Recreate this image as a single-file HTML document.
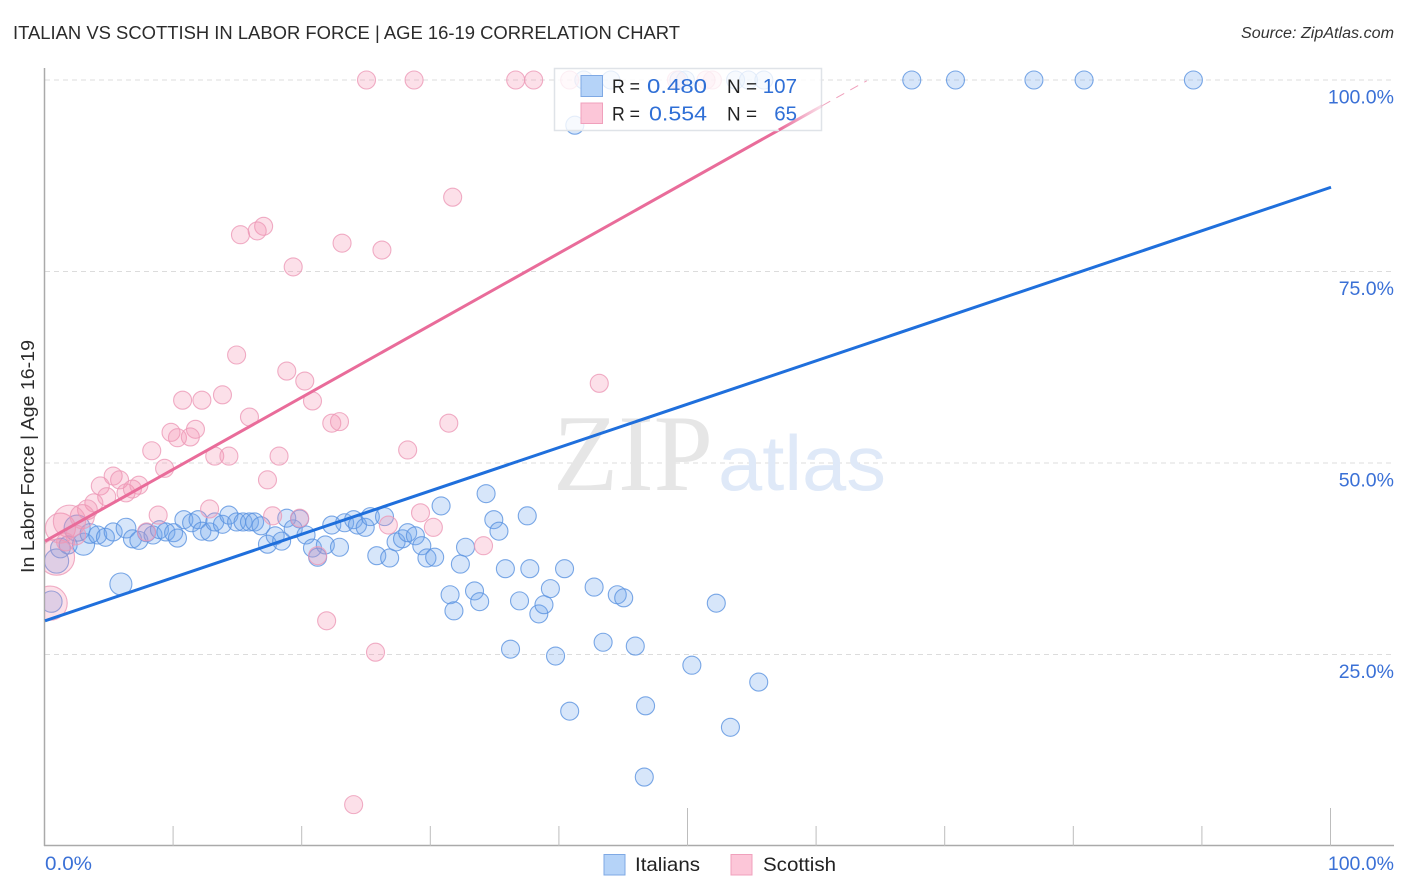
<!DOCTYPE html>
<html lang="en">
<head>
<meta charset="utf-8">
<title>Italian vs Scottish in Labor Force | Age 16-19 Correlation Chart</title>
<style>
html,body{margin:0;padding:0;background:#fff;}
body{width:1406px;height:892px;overflow:hidden;}
svg{display:block;}
text{font-family:"Liberation Sans",sans-serif;}
</style>
</head>
<body>
<svg id="chart" xmlns="http://www.w3.org/2000/svg" width="1406" height="892" viewBox="0 0 1406 892">
  <defs>
    <linearGradient id="pinkFade" gradientUnits="userSpaceOnUse" x1="779" y1="0" x2="825" y2="0">
      <stop offset="0" stop-color="#e96c9a" stop-opacity="1"/>
      <stop offset="1" stop-color="#e96c9a" stop-opacity="0.15"/>
    </linearGradient>
    <clipPath id="plotClip"><rect x="45" y="60" width="1361" height="786"/></clipPath>
  </defs>
  <text x="13" y="39" font-size="18.5" fill="#2b2b2b" textLength="667" lengthAdjust="spacingAndGlyphs">ITALIAN VS SCOTTISH IN LABOR FORCE | AGE 16-19 CORRELATION CHART</text>
  <text x="1241" y="38" font-size="15.5" font-style="italic" fill="#333" textLength="153" lengthAdjust="spacingAndGlyphs">Source: ZipAtlas.com</text>
  <text transform="translate(34,456.5) rotate(-90)" font-size="18.5" fill="#2b2b2b" text-anchor="middle" textLength="233" lengthAdjust="spacingAndGlyphs">In Labor Force | Age 16-19</text>

  <g id="grid"></g>

  <g>
    <text x="553" y="490" font-size="109" fill="#e6e6e6" style="font-family:'Liberation Serif',serif" textLength="160" lengthAdjust="spacingAndGlyphs">ZIP</text>
    <text x="718" y="490" font-size="78" fill="#dfe9f8" textLength="168" lengthAdjust="spacingAndGlyphs">atlas</text>
  </g>

  <g id="axes"></g>
  <g id="points" clip-path="url(#plotClip)"></g>
  <g id="trends"></g>
  <g id="labels"></g>

  <rect x="554.5" y="68.5" width="267" height="62" fill="#fff" fill-opacity="0.8" stroke="#dfe3e8" stroke-width="1.5"/>
  <g id="trendsTop"></g>
  <g>
    <rect x="581" y="75.5" width="21.5" height="21" fill="#b5d3f8" stroke="#7fa9e4" stroke-width="1"/>
    <rect x="581" y="103" width="21.5" height="20.5" fill="#fcc6d8" stroke="#f0a0bc" stroke-width="1"/>
    <text x="612" y="93" font-size="19.5" fill="#222" textLength="28" lengthAdjust="spacingAndGlyphs">R =</text>
    <text x="647" y="93" font-size="20.5" fill="#2f6fd6" textLength="60" lengthAdjust="spacingAndGlyphs">0.480</text>
    <text x="727" y="93" font-size="19.5" fill="#222" textLength="30" lengthAdjust="spacingAndGlyphs">N =</text>
    <text x="797" y="93" font-size="20.5" fill="#2f6fd6" text-anchor="end">107</text>
    <text x="612" y="120.5" font-size="19.5" fill="#222" textLength="28" lengthAdjust="spacingAndGlyphs">R =</text>
    <text x="649" y="120.5" font-size="20.5" fill="#2f6fd6" textLength="58" lengthAdjust="spacingAndGlyphs">0.554</text>
    <text x="727" y="120.5" font-size="19.5" fill="#222" textLength="30" lengthAdjust="spacingAndGlyphs">N =</text>
    <text x="797" y="120.5" font-size="20.5" fill="#2f6fd6" text-anchor="end">65</text>
  </g>

  <g>
    <rect x="604" y="854.5" width="21" height="20.5" fill="#b5d3f8" stroke="#7fa9e4" stroke-width="1"/>
    <text x="635" y="871" font-size="19.5" fill="#222" textLength="65" lengthAdjust="spacingAndGlyphs">Italians</text>
    <rect x="731" y="854.5" width="21" height="20.5" fill="#fcc6d8" stroke="#f0a0bc" stroke-width="1"/>
    <text x="763" y="871" font-size="19.5" fill="#222" textLength="73" lengthAdjust="spacingAndGlyphs">Scottish</text>
  </g>
</svg>

<script>
const yTickValues = [25, 50, 75, 100];
const yTickLabels = ['25.0%', '50.0%', '75.0%', '100.0%'];
const xTickValues = [0, 10, 20, 30, 40, 50, 60, 70, 80, 90, 100];
const xMajorTicks = [50, 100];
const xEndLabels = ['0.0%', '100.0%'];

const italiansX = [67.4,70.8,76.9,80.8,89.3,41.9,44.0,49.3,49.8,53.7,54.7,55.9,41.2,
  5.9,0.5,0.9,1.2,1.8,3.0,2.5,3.5,4.1,4.7,5.3,6.3,6.8,7.3,7.9,8.4,8.9,9.4,10.0,10.3,
  10.8,11.4,11.9,12.2,12.8,13.2,13.8,14.3,14.9,15.4,15.9,16.3,16.8,17.3,17.9,18.4,18.8,19.3,19.8,
  20.3,20.8,21.2,21.8,22.3,22.9,23.3,24.0,24.3,24.9,25.3,26.4,25.8,26.8,27.3,27.8,28.2,28.8,29.3,
  29.7,30.3,30.8,32.3,32.7,34.3,34.9,35.3,37.5,31.5,31.8,33.4,33.8,35.8,36.9,37.7,38.4,38.8,39.3,
  40.4,42.7,44.5,45.0,52.2,36.2,39.7,43.4,45.9,50.3,55.5,40.8,46.7,53.3,46.6];
const italiansY = [100,100,100,100,100,100,100,100,100,100,100,100,94.1,
  34.2,31.9,37.2,38.9,39.3,39.4,41.5,40.8,40.6,40.3,41.0,41.5,40.1,39.9,40.9,40.6,41.3,41.0,40.9,40.2,
  42.6,42.2,42.6,41.1,41.0,42.3,42.0,43.2,42.3,42.3,42.3,42.3,41.8,39.4,40.5,39.8,42.8,41.4,42.7,
  40.6,38.9,37.7,39.3,41.9,39.0,42.2,42.6,41.9,41.6,43.0,43.0,37.9,37.6,39.7,40.1,40.9,40.5,39.2,
  37.6,37.7,44.4,36.8,39.0,46.0,42.6,41.1,43.1,32.8,30.7,33.3,31.9,36.2,32.0,36.2,30.3,31.5,33.6,
  36.2,33.8,32.8,32.4,31.7,25.7,24.8,26.6,26.1,23.6,21.4,17.6,18.3,15.5,9.0];
const italiansSize = [1,1,1,1,1,1,1,1,1,1,1,1,1,
  1.5,1.4,1.8,1.2,1,1.5,2.1,1.2,1,1,1,1.2,1,1,1,1,1,1,1,1,
  1,1,1,1,1,1,1,1,1,1,1,1,1,1,1,1,1,1,1,
  1,1,1,1,1,1,1,1,1,1,1,1,1,1,1,1,1,1,1,
  1,1,1,1,1,1,1,1,1,1,1,1,1,1,1,1,1,1,1,
  1,1,1,1,1,1,1,1,1,1,1,1,1,1,1];

const scottishX = [25.0,28.7,36.6,38.0,40.8,49.1,51.4,51.9,31.7,17.0,16.5,15.2,23.1,26.2,19.3,14.9,18.8,20.2,43.1,13.8,
  10.7,12.2,20.8,15.9,22.3,22.9,31.4,11.7,9.8,10.3,11.3,8.3,28.2,13.2,14.3,18.2,9.3,17.3,5.3,5.8,
  4.3,6.3,6.8,7.3,4.8,3.8,3.3,12.8,8.8,17.7,19.8,29.2,30.2,26.7,34.1,21.2,21.9,25.7,24.0,7.9,
  0.9,0.4,1.2,1.9,2.9,2.4,1.6];
const scottishY = [100,100,100,100,100,100,100,100,84.7,80.9,80.3,79.8,78.7,77.8,75.6,64.1,62.0,60.7,60.4,58.9,
  58.2,58.2,58.1,56.0,55.2,55.4,55.2,54.4,54.0,53.3,53.4,51.6,51.7,50.9,50.9,50.9,49.3,47.8,48.3,47.8,
  47.0,46.1,46.6,47.1,45.6,44.8,43.9,44.0,43.2,43.1,42.8,43.5,41.6,41.9,39.2,37.9,29.4,25.3,5.4,41.0,
  37.7,31.7,41.5,42.4,43.0,40.6,39.7];
const scottishSize = [1,1,1,1,1,1,1,1,1,1,1,1,1,1,1,1,1,1,1,1,
  1,1,1,1,1,1,1,1,1,1,1,1,1,1,1,1,1,1,1,1,
  1,1,1,1,1,1,1.2,1,1,1,1,1,1,1,1,1,1,1,1,1,
  4,3.6,2.8,3.2,1.8,1.2,1];

const italiansTrendX = [0, 100];
const italiansTrendY = [29.4, 86.0];
const scottishTrendX = [0, 63.9];
const scottishTrendY = [39.8, 99.9];

const SVGNS = 'http://www.w3.org/2000/svg';
function xScale(v) { return 45 + v * 12.86; }
function yScale(v) { return 846 - v * 7.66; }
function rScale(w) { return 9 * Math.sqrt(w); }
function make(tag, attrs, parent) {
  const el = document.createElementNS(SVGNS, tag);
  for (const k in attrs) el.setAttribute(k, attrs[k]);
  parent.appendChild(el);
  return el;
}

const gridG = document.getElementById('grid');
const axesG = document.getElementById('axes');
const pointsG = document.getElementById('points');
const trendsG = document.getElementById('trends');
const trendsTopG = document.getElementById('trendsTop');
const labelsG = document.getElementById('labels');

yTickValues.forEach(function (v, i) {
  const line = make('line', {x1: 45, x2: 1394, y1: yScale(v), y2: yScale(v), stroke: '#dcdcdc', 'stroke-width': 1, 'stroke-dasharray': '5 4'}, gridG);
  
  
  const t = make('text', {x: 1394, y: yScale(v) + 23.5, 'text-anchor': 'end', 'font-size': 19.5, fill: '#3a70d6'}, labelsG);
  t.textContent = yTickLabels[i];
  
  
});

const yAxis = make('line', {x1: 44.5, x2: 44.5, y1: 68, y2: 846, stroke: '#aaaaaa', 'stroke-width': 1.5}, axesG);


const xAxis = make('line', {x1: 44, x2: 1394, y1: 845.5, y2: 845.5, stroke: '#aaaaaa', 'stroke-width': 1.5}, axesG);



xTickValues.forEach(function (v) {
  if (v === 0) return;
  const top = xMajorTicks.indexOf(v) >= 0 ? 808 : 826;
  const tick = make('line', {x1: xScale(v) - 0.5, x2: xScale(v) - 0.5, y1: top, y2: 846, stroke: '#bdbdbd', 'stroke-width': 1}, axesG);
  
  
});

const xLabelLeft = make('text', {x: 45, y: 870, 'font-size': 19.5, fill: '#3a70d6', textLength: 47, lengthAdjust: 'spacingAndGlyphs'}, labelsG);
xLabelLeft.textContent = xEndLabels[0];


const xLabelRight = make('text', {x: 1394, y: 870, 'text-anchor': 'end', 'font-size': 19.5, fill: '#3a70d6'}, labelsG);
xLabelRight.textContent = xEndLabels[1];



italiansX.forEach(function (v, i) {
  const c = make('circle', {cx: xScale(v), cy: yScale(italiansY[i]), r: rScale(italiansSize[i]), fill: '#6ea6ec', 'fill-opacity': 0.28, stroke: '#5a92e0', 'stroke-opacity': 0.8, 'stroke-width': 1.1}, pointsG);
  
  
});
scottishX.forEach(function (v, i) {
  const c = make('circle', {cx: xScale(v), cy: yScale(scottishY[i]), r: rScale(scottishSize[i]), fill: '#f48fb1', 'fill-opacity': 0.28, stroke: '#ec98b6', 'stroke-opacity': 0.8, 'stroke-width': 1.1}, pointsG);
  
  
});

const blueTrend = make('line', {x1: xScale(italiansTrendX[0]), y1: yScale(italiansTrendY[0]), x2: xScale(italiansTrendX[1]), y2: yScale(italiansTrendY[1]), stroke: '#1f6fdc', 'stroke-width': 3}, trendsG);



const px0 = xScale(scottishTrendX[0]);
const py0 = yScale(scottishTrendY[0]);
const px1 = xScale(scottishTrendX[1]);
const py1 = yScale(scottishTrendY[1]);
function pinkPoint(f) { return [px0 + (px1 - px0) * f, py0 + (py1 - py0) * f]; }
const solidEnd = pinkPoint(0.893);
const fadeEnd = pinkPoint(0.946);
const pinkSolid = make('line', {x1: px0, y1: py0, x2: solidEnd[0], y2: solidEnd[1], stroke: '#e96c9a', 'stroke-width': 3}, trendsG);


const pinkFade = make('line', {x1: solidEnd[0], y1: solidEnd[1], x2: fadeEnd[0], y2: fadeEnd[1], stroke: 'url(#pinkFade)', 'stroke-width': 3}, trendsTopG);


const pinkDash = make('line', {x1: fadeEnd[0], y1: fadeEnd[1], x2: px1, y2: py1, stroke: '#f0a0bc', 'stroke-width': 1, 'stroke-dasharray': '9 7'}, trendsTopG);


</script>
</body>
</html>
